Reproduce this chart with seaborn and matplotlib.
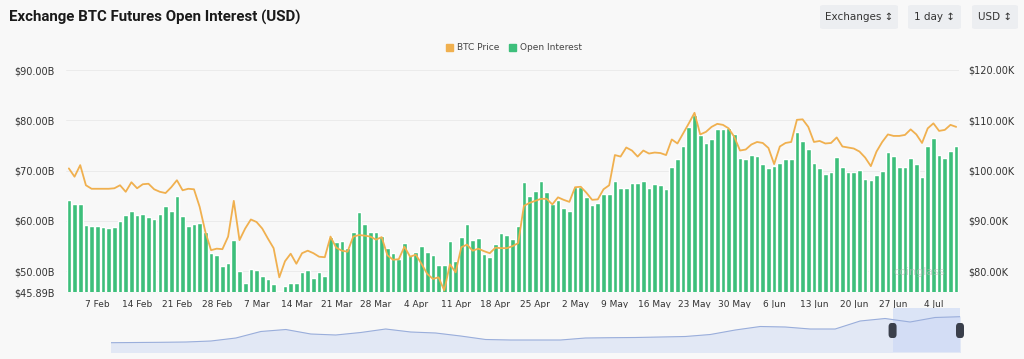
import numpy as np
import pandas as pd
import matplotlib
matplotlib.use("Agg")
import matplotlib.pyplot as plt
from matplotlib.patches import FancyBboxPatch, Patch
import seaborn as sns

# Dane
dates = pd.date_range("2025-02-02", "2025-07-08", freq="D")

open_interest = [
    64.2, 63.3, 63.3, 59.2, 59.0, 59.0, 58.8, 58.55, 58.8, 60.06, 61.26, 61.9, 61.26, 61.45, 60.86,
    60.4, 61.3, 62.9, 61.9, 64.9, 60.9, 58.95, 59.35, 59.6, 57.76, 53.7, 53.2, 51.1, 51.65, 56.2, 50.1,
    47.68, 50.46, 50.33, 49.07, 48.4, 47.4, 46.15, 47.08, 47.6, 47.68, 49.93, 50.2, 48.6, 49.87, 49.13,
    56.9, 55.77, 55.97, 54.64, 57.82, 61.73, 59.5, 57.76, 57.82, 57.08, 54.64, 53.7, 52.39, 55.63, 53.25, 53.9,
    55.03, 53.78, 53.18, 51.33, 51.26, 56.1, 52.05, 56.76, 59.4, 56.16, 56.63, 53.44, 52.9, 55.37, 57.56,
    57.29, 56.37, 58.95, 67.82, 65.04, 65.97, 67.96, 65.83, 63.32, 64.18, 62.53, 62.06, 66.7, 66.7, 64.84, 63.12,
    63.52, 65.43, 65.3, 68.02, 66.57, 66.57, 67.62, 67.62, 67.96, 66.63, 67.3, 67.16, 66.3, 70.74, 72.27, 74.92,
    78.7, 81.0, 77.16, 75.51, 76.3, 78.3, 78.23, 78.43, 77.36, 72.46, 72.4, 73.13, 72.86, 71.33, 70.54, 70.94,
    71.6, 72.33, 72.33, 77.63, 75.85, 74.4, 71.47, 70.47, 69.41, 69.81, 72.73, 70.67, 69.81, 69.81, 70.14, 68.29,
    68.16, 69.09, 70.01, 73.78, 72.99, 70.67, 70.67, 72.53, 71.33, 68.75, 74.98, 76.57, 73.07, 72.6, 73.92, 74.85,
]

btc_price = [
    100.45, 98.8, 101.1, 97.1, 96.4, 96.4, 96.4, 96.4, 96.5, 97.1, 95.8, 97.7, 96.5, 97.3, 97.4, 96.3,
    95.8, 95.55, 96.7, 98.1, 96.1, 96.4, 96.3, 92.8, 87.85, 84.2, 84.5, 84.4, 86.9, 94.0, 86.2,
    88.5, 90.3, 89.8, 88.5, 86.5, 84.6, 78.8, 82.0, 83.5, 81.5, 83.6, 84.1, 83.6, 82.9, 82.8, 86.9,
    84.7, 84.1, 83.9, 86.9, 87.2, 87.1, 86.9, 86.3, 86.8, 83.2, 82.3, 82.4, 84.9, 82.9, 83.3,
    81.5, 79.5, 78.5, 78.8, 76.2, 81.4, 79.8, 84.8, 85.3, 84.1, 84.5, 84.0, 83.6, 84.7, 84.6, 84.6,
    85.0, 85.6, 93.0, 93.6, 94.0, 94.4, 94.4, 93.3, 94.7, 94.2, 93.8, 96.7, 96.8, 95.6, 94.2,
    94.3, 96.3, 97.1, 103.1, 102.8, 104.6, 104.0, 102.8, 104.0, 103.4, 103.6, 103.5, 103.1, 106.2, 105.4,
    107.4, 109.4, 111.5, 107.2, 107.7, 108.7, 109.3, 109.1, 108.4, 106.7, 104.0, 104.2, 105.2, 105.7, 105.5,
    104.5, 101.3,
    104.8, 105.5, 105.7, 110.1, 110.2, 108.7, 105.7, 105.9, 105.4, 105.5, 106.6, 104.8, 104.6, 104.4, 103.8,
    102.6, 100.9, 103.8, 105.7, 107.2, 106.9, 106.9, 107.1, 108.2, 107.2, 105.5, 108.4, 109.4, 107.9, 108.1,
    109.1, 108.7,
]

# pasek nawigacji na dole (cała historia, względny poziom)
navigator = [9.3, 9.5, 9.7, 10, 11, 14, 20.5, 22.5, 18, 17, 19.5, 23, 20, 19, 16, 12.5, 12, 12,
             12, 14, 14.3, 14.5, 15, 15.5, 17.5, 22, 25.5, 25, 23, 23, 31, 33.5, 30, 34.5, 35.3]

left_ticks = [45.89, 50, 60, 70, 80, 90]
right_ticks = [80, 90, 100, 110, 120]

green = "#3DBF7B"
orange = "#F0B04F"
bg = "#F8F8F8"
txt = "#333333"

sns.set_theme(style="white")
plt.rcParams["font.family"] = ["DejaVu Sans"]

df = pd.DataFrame({"idx": np.arange(len(dates)), "oi": open_interest, "btc": btc_price})

fig = plt.figure(figsize=(10.24, 3.59), dpi=100, facecolor=bg)
ax = fig.add_axes([66 / 1024, 1 - 292 / 359, 893 / 1024, 222 / 359])
ax.set_facecolor(bg)

sns.barplot(data=df, x="idx", y="oi", ax=ax, color=green, width=0.82, saturation=1)
ax.set_ylim(45.89, 90)
ax.set_yticks(left_ticks)
ax.set_yticklabels([f"${v:.2f}B" for v in left_ticks], fontsize=7, color=txt)
ax.grid(axis="y", color="#E9E9E9", lw=0.6)
ax.set_axisbelow(True)
ax.set_xlabel("")
ax.set_ylabel("")

ax2 = ax.twinx()
sns.lineplot(data=df, x="idx", y="btc", ax=ax2, color=orange, lw=1.3)
ax2.set_ylim(120 - 44.11, 120)
ax2.set_yticks(right_ticks)
ax2.set_yticklabels([f"${v:.2f}K" for v in right_ticks], fontsize=7, color=txt)
ax2.tick_params(axis="y", length=0, pad=7)
ax2.tick_params(axis="x", which="both", bottom=False, top=False, labelbottom=False, labeltop=False)
ax2.set_ylabel("")
ax2.set_xlabel("")

# etykiety dat co 7 dni
tick_idx = [i for i, d in enumerate(dates) if (d - pd.Timestamp("2025-02-07")).days % 7 == 0]
ax.set_xlim(-0.5, len(dates) - 0.5)
ax.set_xticks(tick_idx)
ax.set_xticklabels([f"{dates[i].day} {dates[i].strftime('%b')}" for i in tick_idx], fontsize=6.5, color=txt)
ax.tick_params(axis="x", length=0, pad=6)
ax.tick_params(axis="y", length=0, pad=8)

for a in (ax, ax2):
    for s in a.spines.values():
        s.set_visible(False)

ax.text(0.985, 0.09, "coinglass", transform=ax.transAxes, ha="right", va="center",
        fontsize=8, color="#BBBBBB", alpha=0.6, zorder=5)

# tytuł
fig.text(9 / 1024, 1 - 17 / 359, "Exchange BTC Futures Open Interest (USD)",
         fontsize=10.8, fontweight="bold", color="#1A1A1A", va="center", ha="left",
         family=["Liberation Sans Narrow", "Roboto", "DejaVu Sans"])

# przyciski
for label, x0, x1 in [("Exchanges \u2195", 820, 898), ("1 day \u2195", 908, 961), ("USD \u2195", 972, 1018)]:
    fig.patches.append(FancyBboxPatch((x0 / 1024, 1 - 29 / 359), (x1 - x0) / 1024, 24 / 359,
                                      boxstyle="round,pad=0,rounding_size=0.004",
                                      transform=fig.transFigure, facecolor="#ECEEF1", edgecolor="none"))
    fig.text((x0 + x1) / 2 / 1024, 1 - 16.5 / 359, label, fontsize=7.5, color=txt, ha="center", va="center")

# legenda
handles = [Patch(color=orange, label="BTC Price"), Patch(color=green, label="Open Interest")]
fig.legend(handles=handles, loc="center", bbox_to_anchor=(514 / 1024, 1 - 48 / 359), ncol=2,
           frameon=False, fontsize=6.5, handlelength=0.8, handleheight=0.8, handletextpad=0.5,
           columnspacing=1.0, labelcolor="#444444")

# nawigator
nav = fig.add_axes([111 / 1024, 1 - 352 / 359, 849 / 1024, 44 / 359])
nav.set_facecolor(bg)
nx = np.arange(len(navigator))
nav.fill_between(nx, navigator, color="#E2E8F5")
sns.lineplot(x=nx, y=navigator, ax=nav, color="#9AAEDB", lw=0.8)
nav.set_xlim(0, len(navigator) - 1)
nav.set_ylim(0, 44)
nav.axvspan(31.3, len(navigator) - 1, color="#C9D7F5", alpha=0.6, lw=0)
for hx in (31.3, len(navigator) - 1):
    nav.add_patch(FancyBboxPatch((hx - 0.16, 14), 0.32, 15, boxstyle="round,pad=0,rounding_size=0.12",
                                 facecolor="#3A3F4B", edgecolor="none", zorder=5, clip_on=False,
                                 mutation_aspect=30))
nav.set_xticks([])
nav.set_yticks([])
for s in nav.spines.values():
    s.set_visible(False)

fig.savefig("out.png", dpi=100, facecolor=bg)
